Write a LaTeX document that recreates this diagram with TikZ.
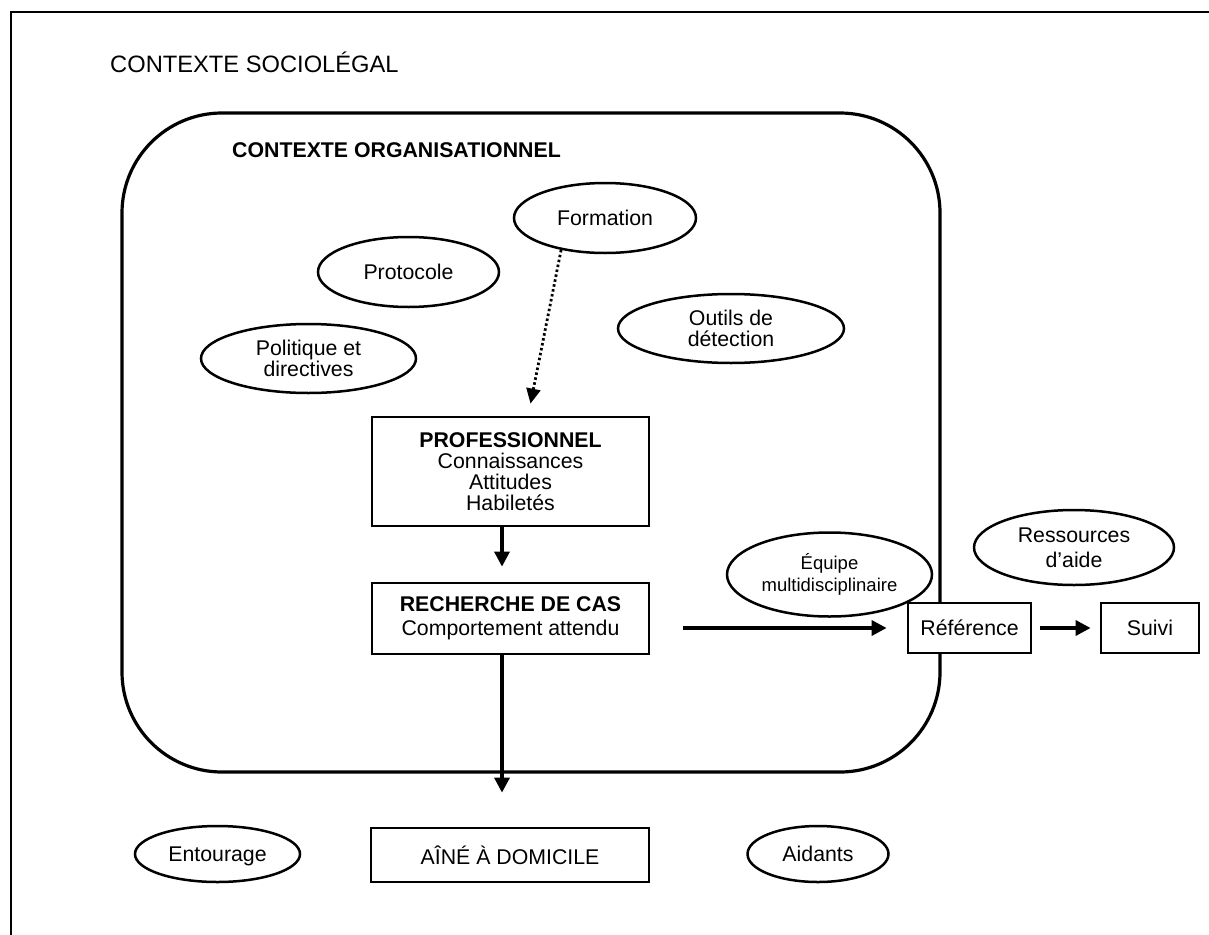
\documentclass[tikz,border=0pt]{standalone}
\usepackage{fontspec}
\setmainfont{Liberation Sans}
\usetikzlibrary{arrows.meta,shapes.geometric}
\begin{document}
\begin{tikzpicture}[x=1pt,y=-1pt,
  txt/.style={font=\fontsize{21.3}{21}\selectfont},
  oval/.style={draw,ellipse,line width=2.5pt,inner sep=0pt,align=center,txt},
  boxn/.style={draw,rectangle,line width=2.8pt,inner sep=0pt,align=center,txt},
  arr/.style={line width=3.4pt,-{Triangle[width=15pt,length=15pt]}},
  dotarr/.style={line width=2.8pt,dash pattern=on 2.5pt off 2.5pt,-{Triangle[width=14pt,length=15pt]}}]
\useasboundingbox (0,0) rectangle (1209,934);
% outer frame
\draw[line width=2.8pt] (11,940) -- (11,12) -- (1215,12);
% organisational context
\draw[line width=3.2pt,rounded corners=100pt] (122,113) rectangle (940,772);
\node[anchor=base west,font=\fontsize{23.7}{24}\selectfont,inner sep=0pt] (soc) at (110,73) {CONTEXTE SOCIOLÉGAL};
\node[anchor=base west,font=\fontsize{21.3}{21}\selectfont\bfseries,inner sep=0pt] (org) at (232,157) {CONTEXTE ORGANISATIONNEL};
% ellipses
\node[oval,minimum width=182pt,minimum height=70pt] (form) at (605,218) {Formation};
\node[oval,minimum width=181pt,minimum height=70pt] (proto) at (408.5,272) {Protocole};
\node[oval,minimum width=215pt,minimum height=69pt] (polit) at (308.5,358.5) {Politique et\\directives};
\node[oval,minimum width=226pt,minimum height=69pt] (outils) at (731,328.5) {Outils de\\détection};
\node[oval,minimum width=205pt,minimum height=84pt,font=\fontsize{18.5}{22.5}\selectfont] (equipe) at (829.5,574.5) {Équipe\\multidisciplinaire};
\node[oval,minimum width=200pt,minimum height=75pt,font=\fontsize{21.3}{25}\selectfont] (ress) at (1074,547.5) {Ressources\\d’aide};
\node[oval,minimum width=165pt,minimum height=56pt] (entour) at (217.5,854) {Entourage\vphantom{Ê}};
\node[oval,minimum width=141pt,minimum height=56pt] (aidants) at (818,854) {Aidants};
% boxes
\node[boxn,minimum width=277pt,minimum height=109pt] (prof) at (510.5,471.5) {\textbf{PROFESSIONNEL}\\Connaissances\\Attitudes\\Habiletés};
\node[boxn,minimum width=277pt,minimum height=71pt] (rech) at (510.5,618.5) {\textbf{RECHERCHE DE CAS}\\[3pt]Comportement attendu};
\node[boxn,minimum width=278pt,minimum height=54pt] (aine) at (510,855) {AÎNÉ À DOMICILE};
\node[boxn,minimum width=123pt,minimum height=50pt,fill=white] (ref) at (969.5,628) {Référence};
\node[boxn,minimum width=98pt,minimum height=50pt] (suivi) at (1150,628) {Suivi};
% connectors
\draw[dotarr] (form.216) -- ([xshift=20pt,yshift=12pt]prof.north);
\draw[arr] ([xshift=-8.5pt]prof.south) -- ([xshift=-8.5pt,yshift=15pt]rech.north);
\draw[arr] ([xshift=-8.5pt]rech.south) -- ([xshift=-8pt,yshift=34pt]aine.north);
\coordinate (rs) at (683,628);
\draw[arr] (rs) -- ([xshift=-20pt]ref.west);
\draw[arr] ([xshift=8pt]ref.east) -- ([xshift=-9pt]suivi.west);
\end{tikzpicture}
\end{document}
